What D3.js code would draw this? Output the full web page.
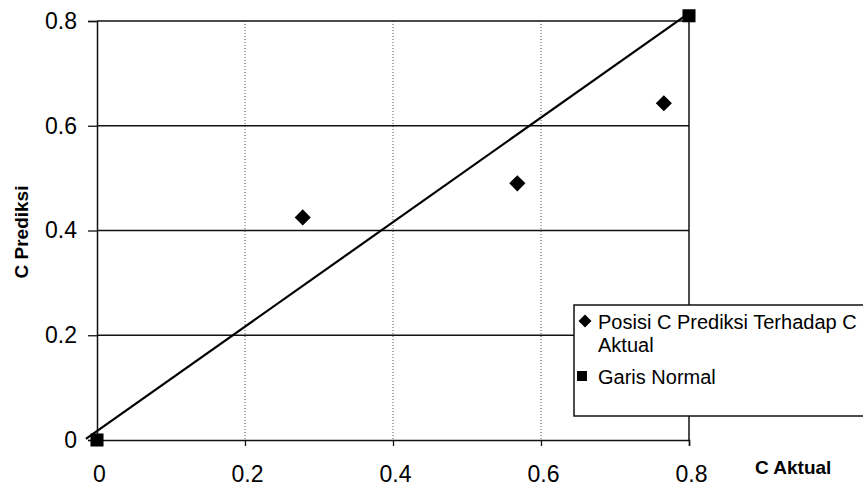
<!DOCTYPE html>
<html>
<head>
<meta charset="utf-8">
<script src="https://cdn.jsdelivr.net/npm/d3@7"></script>
<style>
    body { margin: 0; background: #fff; }
    svg { display: block; font-family: "Liberation Sans", Arial, sans-serif; }
</style>
</head>
<body>
<script>
// data
const tickValues = [0, 0.2, 0.4, 0.6, 0.8];
const tickLabels = ["0", "0.2", "0.4", "0.6", "0.8"];
const cAktual = [0.278, 0.568, 0.766];
const cPrediksi = [0.425, 0.49, 0.643];
const normalX = [0, 0.8];
const normalY = [0, 0.81];
const lineX = [-0.015, 0.8];
const lineY = [0.002, 0.815];
const legendItems = ["Posisi C Prediksi Terhadap C|Aktual", "Garis Normal"];

const w = 863, h = 486;
const svg = d3.select("body").append("svg")
    .attr("width", w)
    .attr("height", h);

const x = d3.scaleLinear().domain([0, 0.8]).range([97, 689]);
const y = d3.scaleLinear().domain([0, 0.8]).range([440, 21]);

//Gridlines
svg.append("g")
    .selectAll("line")
    .data(tickValues.slice(1, -1))
    .join("line")
    .attr("x1", d => x(d)).attr("x2", d => x(d))
    .attr("y1", y(0.8)).attr("y2", y(0))
    .attr("stroke", "#555")
    .attr("stroke-width", 1)
    .attr("stroke-dasharray", "1,2");

svg.append("g")
    .selectAll("line")
    .data(tickValues.slice(1))
    .join("line")
    .attr("x1", x(0)).attr("x2", x(0.8))
    .attr("y1", d => y(d)).attr("y2", d => y(d))
    .attr("stroke", "#111")
    .attr("stroke-width", 1.3);

// plot area right border
svg.append("line")
    .attr("x1", x(0.8)).attr("x2", x(0.8))
    .attr("y1", y(0.8)).attr("y2", y(0))
    .attr("stroke", "#111")
    .attr("stroke-width", 1.5);

//Axes
const yAxis = d3.axisLeft(y)
    .tickValues(tickValues)
    .tickFormat((d, i) => tickLabels[i])
    .tickSize(9)
    .tickPadding(11);
const yg = svg.append("g")
    .attr("transform", "translate(" + x(0) + ",0)")
    .call(yAxis);

const xAxis = d3.axisBottom(x)
    .tickValues(tickValues)
    .tickFormat((d, i) => tickLabels[i])
    .tickSize(6)
    .tickPadding(20);
const xg = svg.append("g")
    .attr("transform", "translate(0," + y(0) + ")")
    .call(xAxis);

[yg, xg].forEach(g => {
    g.select(".domain").attr("stroke", "#111").attr("stroke-width", 1.5);
    g.selectAll(".tick line").attr("stroke", "#111").attr("stroke-width", 1.3);
    g.selectAll(".tick text")
        .attr("fill", "#000")
        .style("font-size", "23px")
        .style("font-family", "'Liberation Sans', Arial, sans-serif");
});
xg.selectAll(".tick text").attr("dx", 2);

// axis titles
svg.append("text")
    .attr("transform", "translate(28,232) rotate(-90)")
    .attr("text-anchor", "middle")
    .style("font-size", "19px")
    .style("font-weight", "bold")
    .text("C Prediksi");

svg.append("text")
    .attr("x", 755).attr("y", 474)
    .style("font-size", "19px")
    .style("font-weight", "bold")
    .text("C Aktual");

//Normal line
const line = d3.line()
    .x(d => x(d[0]))
    .y(d => y(d[1]));
svg.append("path")
    .datum(d3.zip(lineX, lineY))
    .attr("d", line)
    .attr("fill", "none")
    .attr("stroke", "#000")
    .attr("stroke-width", 2.2);

const diamond = d3.symbol().type(d3.symbolSquare).size(130);
const square = d3.symbol().type(d3.symbolSquare).size(170);

svg.append("g")
    .selectAll("path")
    .data(d3.zip(normalX, normalY))
    .join("path")
    .attr("d", square)
    .attr("transform", d => "translate(" + x(d[0]) + "," + y(d[1]) + ")")
    .attr("fill", "#000");

svg.append("g")
    .selectAll("path")
    .data(d3.zip(cAktual, cPrediksi))
    .join("path")
    .attr("d", diamond)
    .attr("transform", d => "translate(" + x(d[0]) + "," + y(d[1]) + ") rotate(45)")
    .attr("fill", "#000");

//Legend
const legend = svg.append("g").attr("transform", "translate(574,305)");
legend.append("rect")
    .attr("width", 300).attr("height", 111)
    .attr("fill", "#fff")
    .attr("stroke", "#111")
    .attr("stroke-width", 1.5);

const legendRows = [16, 71];
legend.append("path")
    .attr("d", d3.symbol().type(d3.symbolSquare).size(85))
    .attr("transform", "translate(11," + legendRows[0] + ") rotate(45)")
    .attr("fill", "#000");
legend.append("path")
    .attr("d", d3.symbol().type(d3.symbolSquare).size(100))
    .attr("transform", "translate(8," + legendRows[1] + ")")
    .attr("fill", "#000");

legendItems.forEach((t, i) => {
    const txt = legend.append("text")
        .attr("x", 24)
        .attr("y", legendRows[i] + 8)
        .style("font-size", "20px");
    t.split("|").forEach((part, j) => {
        txt.append("tspan")
            .attr("x", 24)
            .attr("dy", j === 0 ? 0 : 23)
            .text(part);
    });
});
</script>
</body>
</html>
